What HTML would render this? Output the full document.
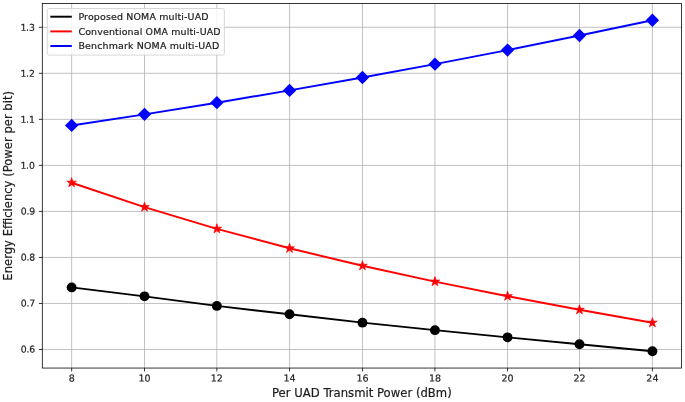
<!DOCTYPE html>
<html><head><meta charset="utf-8"><title>Energy Efficiency vs Per UAD Transmit Power</title>
<style>
html,body{margin:0;padding:0;background:#fff;}
body{width:685px;height:402px;overflow:hidden;}
svg{display:block;}
text{font-family:"DejaVu Sans","Liberation Sans",sans-serif;fill:#1c1c1c;stroke:#1c1c1c;stroke-width:0.2px;stroke-linejoin:round;}
.tick{font-size:9.5px;}
.lab{font-size:11.6px;}
.leg{font-size:9.45px;}
</style></head><body>
<svg width="685" height="402" viewBox="0 0 685 402">
<rect x="0" y="0" width="685" height="402" fill="#ffffff"/>

<g stroke="#b0b0b0" stroke-width="0.78" fill="none">
<line x1="71.65" y1="3.4" x2="71.65" y2="368.05"/>
<line x1="144.50" y1="3.4" x2="144.50" y2="368.05"/>
<line x1="216.85" y1="3.4" x2="216.85" y2="368.05"/>
<line x1="289.55" y1="3.4" x2="289.55" y2="368.05"/>
<line x1="362.45" y1="3.4" x2="362.45" y2="368.05"/>
<line x1="434.95" y1="3.4" x2="434.95" y2="368.05"/>
<line x1="507.55" y1="3.4" x2="507.55" y2="368.05"/>
<line x1="579.50" y1="3.4" x2="579.50" y2="368.05"/>
<line x1="652.40" y1="3.4" x2="652.40" y2="368.05"/>
<line x1="42.3" y1="349.50" x2="681.6" y2="349.50"/>
<line x1="42.3" y1="303.47" x2="681.6" y2="303.47"/>
<line x1="42.3" y1="257.44" x2="681.6" y2="257.44"/>
<line x1="42.3" y1="211.41" x2="681.6" y2="211.41"/>
<line x1="42.3" y1="165.38" x2="681.6" y2="165.38"/>
<line x1="42.3" y1="119.35" x2="681.6" y2="119.35"/>
<line x1="42.3" y1="73.32" x2="681.6" y2="73.32"/>
<line x1="42.3" y1="27.29" x2="681.6" y2="27.29"/>
</g>
<polyline points="71.65,287.40 144.50,296.35 216.85,305.90 289.55,314.30 362.45,322.65 434.95,330.15 507.55,337.35 579.50,344.30 652.40,351.25" fill="none" stroke="#000000" stroke-width="1.95" stroke-linejoin="round" stroke-linecap="butt"/>
<circle cx="71.65" cy="287.40" r="4.95" fill="#000000"/>
<circle cx="144.50" cy="296.35" r="4.95" fill="#000000"/>
<circle cx="216.85" cy="305.90" r="4.95" fill="#000000"/>
<circle cx="289.55" cy="314.30" r="4.95" fill="#000000"/>
<circle cx="362.45" cy="322.65" r="4.95" fill="#000000"/>
<circle cx="434.95" cy="330.15" r="4.95" fill="#000000"/>
<circle cx="507.55" cy="337.35" r="4.95" fill="#000000"/>
<circle cx="579.50" cy="344.30" r="4.95" fill="#000000"/>
<circle cx="652.40" cy="351.25" r="4.95" fill="#000000"/>
<polyline points="71.65,182.74 144.50,207.10 216.85,228.84 289.55,248.30 362.45,265.79 434.95,281.65 507.55,296.21 579.50,309.81 652.40,322.76" fill="none" stroke="#ff0000" stroke-width="1.95" stroke-linejoin="round" stroke-linecap="butt"/>
<polygon points="71.65,177.69 72.78,181.18 76.45,181.18 73.48,183.33 74.62,186.82 71.65,184.67 68.68,186.82 69.82,183.33 66.85,181.18 70.52,181.18" fill="#ff0000" stroke="#ff0000" stroke-width="0.7" stroke-linejoin="miter"/>
<polygon points="144.50,202.05 145.63,205.54 149.30,205.54 146.33,207.70 147.47,211.19 144.50,209.03 141.53,211.19 142.67,207.70 139.70,205.54 143.37,205.54" fill="#ff0000" stroke="#ff0000" stroke-width="0.7" stroke-linejoin="miter"/>
<polygon points="216.85,223.79 217.98,227.28 221.65,227.28 218.68,229.44 219.82,232.93 216.85,230.77 213.88,232.93 215.02,229.44 212.05,227.28 215.72,227.28" fill="#ff0000" stroke="#ff0000" stroke-width="0.7" stroke-linejoin="miter"/>
<polygon points="289.55,243.25 290.68,246.74 294.35,246.74 291.38,248.89 292.52,252.38 289.55,250.23 286.58,252.38 287.72,248.89 284.75,246.74 288.42,246.74" fill="#ff0000" stroke="#ff0000" stroke-width="0.7" stroke-linejoin="miter"/>
<polygon points="362.45,260.74 363.58,264.23 367.25,264.23 364.28,266.39 365.42,269.87 362.45,267.72 359.48,269.87 360.62,266.39 357.65,264.23 361.32,264.23" fill="#ff0000" stroke="#ff0000" stroke-width="0.7" stroke-linejoin="miter"/>
<polygon points="434.95,276.60 436.08,280.09 439.75,280.09 436.78,282.25 437.92,285.74 434.95,283.58 431.98,285.74 433.12,282.25 430.15,280.09 433.82,280.09" fill="#ff0000" stroke="#ff0000" stroke-width="0.7" stroke-linejoin="miter"/>
<polygon points="507.55,291.16 508.68,294.65 512.35,294.65 509.38,296.81 510.52,300.30 507.55,298.14 504.58,300.30 505.72,296.81 502.75,294.65 506.42,294.65" fill="#ff0000" stroke="#ff0000" stroke-width="0.7" stroke-linejoin="miter"/>
<polygon points="579.50,304.76 580.63,308.25 584.30,308.25 581.33,310.40 582.47,313.89 579.50,311.74 576.53,313.89 577.67,310.40 574.70,308.25 578.37,308.25" fill="#ff0000" stroke="#ff0000" stroke-width="0.7" stroke-linejoin="miter"/>
<polygon points="652.40,317.71 653.53,321.20 657.20,321.20 654.23,323.35 655.37,326.84 652.40,324.69 649.43,326.84 650.57,323.35 647.60,321.20 651.27,321.20" fill="#ff0000" stroke="#ff0000" stroke-width="0.7" stroke-linejoin="miter"/>
<polyline points="71.65,125.42 144.50,114.34 216.85,102.67 289.55,90.41 362.45,77.57 434.95,64.13 507.55,50.11 579.50,35.50 652.40,20.30" fill="none" stroke="#0000ff" stroke-width="1.95" stroke-linejoin="round" stroke-linecap="butt"/>
<polygon points="71.65,118.72 78.35,125.42 71.65,132.12 64.95,125.42" fill="#0000ff"/>
<polygon points="144.50,107.64 151.20,114.34 144.50,121.04 137.80,114.34" fill="#0000ff"/>
<polygon points="216.85,95.97 223.55,102.67 216.85,109.37 210.15,102.67" fill="#0000ff"/>
<polygon points="289.55,83.71 296.25,90.41 289.55,97.11 282.85,90.41" fill="#0000ff"/>
<polygon points="362.45,70.87 369.15,77.57 362.45,84.27 355.75,77.57" fill="#0000ff"/>
<polygon points="434.95,57.43 441.65,64.13 434.95,70.83 428.25,64.13" fill="#0000ff"/>
<polygon points="507.55,43.41 514.25,50.11 507.55,56.81 500.85,50.11" fill="#0000ff"/>
<polygon points="579.50,28.80 586.20,35.50 579.50,42.20 572.80,35.50" fill="#0000ff"/>
<polygon points="652.40,13.60 659.10,20.30 652.40,27.00 645.70,20.30" fill="#0000ff"/>
<rect x="42.3" y="3.4" width="639.30" height="364.65" fill="none" stroke="#000" stroke-width="0.78"/>
<g stroke="#000" stroke-width="0.78">
<line x1="71.65" y1="368.05" x2="71.65" y2="371.45"/>
<line x1="144.50" y1="368.05" x2="144.50" y2="371.45"/>
<line x1="216.85" y1="368.05" x2="216.85" y2="371.45"/>
<line x1="289.55" y1="368.05" x2="289.55" y2="371.45"/>
<line x1="362.45" y1="368.05" x2="362.45" y2="371.45"/>
<line x1="434.95" y1="368.05" x2="434.95" y2="371.45"/>
<line x1="507.55" y1="368.05" x2="507.55" y2="371.45"/>
<line x1="579.50" y1="368.05" x2="579.50" y2="371.45"/>
<line x1="652.40" y1="368.05" x2="652.40" y2="371.45"/>
<line x1="38.9" y1="349.50" x2="42.3" y2="349.50"/>
<line x1="38.9" y1="303.47" x2="42.3" y2="303.47"/>
<line x1="38.9" y1="257.44" x2="42.3" y2="257.44"/>
<line x1="38.9" y1="211.41" x2="42.3" y2="211.41"/>
<line x1="38.9" y1="165.38" x2="42.3" y2="165.38"/>
<line x1="38.9" y1="119.35" x2="42.3" y2="119.35"/>
<line x1="38.9" y1="73.32" x2="42.3" y2="73.32"/>
<line x1="38.9" y1="27.29" x2="42.3" y2="27.29"/>
</g>
<text class="tick" x="71.65" y="381.55" transform="rotate(0.04 71.65 381.55)" text-anchor="middle">8</text>
<text class="tick" x="144.50" y="381.55" transform="rotate(0.04 144.50 381.55)" text-anchor="middle">10</text>
<text class="tick" x="216.85" y="381.55" transform="rotate(0.04 216.85 381.55)" text-anchor="middle">12</text>
<text class="tick" x="289.55" y="381.55" transform="rotate(0.04 289.55 381.55)" text-anchor="middle">14</text>
<text class="tick" x="362.45" y="381.55" transform="rotate(0.04 362.45 381.55)" text-anchor="middle">16</text>
<text class="tick" x="434.95" y="381.55" transform="rotate(0.04 434.95 381.55)" text-anchor="middle">18</text>
<text class="tick" x="507.55" y="381.55" transform="rotate(0.04 507.55 381.55)" text-anchor="middle">20</text>
<text class="tick" x="579.50" y="381.55" transform="rotate(0.04 579.50 381.55)" text-anchor="middle">22</text>
<text class="tick" x="652.40" y="381.55" transform="rotate(0.04 652.40 381.55)" text-anchor="middle">24</text>
<text class="tick" style="font-size:9.3px" x="35.15" y="352.50" transform="rotate(0.04 35.15 352.50)" text-anchor="end" textLength="14.4" lengthAdjust="spacing">0.6</text>
<text class="tick" style="font-size:9.3px" x="35.15" y="306.47" transform="rotate(0.04 35.15 306.47)" text-anchor="end" textLength="14.4" lengthAdjust="spacing">0.7</text>
<text class="tick" style="font-size:9.3px" x="35.15" y="260.44" transform="rotate(0.04 35.15 260.44)" text-anchor="end" textLength="14.4" lengthAdjust="spacing">0.8</text>
<text class="tick" style="font-size:9.3px" x="35.15" y="214.41" transform="rotate(0.04 35.15 214.41)" text-anchor="end" textLength="14.4" lengthAdjust="spacing">0.9</text>
<text class="tick" style="font-size:9.3px" x="34.80" y="168.78" transform="rotate(0.04 34.80 168.78)" text-anchor="end" textLength="14.4" lengthAdjust="spacing">1.0</text>
<text class="tick" style="font-size:9.3px" x="34.80" y="122.75" transform="rotate(0.04 34.80 122.75)" text-anchor="end" textLength="14.4" lengthAdjust="spacing">1.1</text>
<text class="tick" style="font-size:9.3px" x="34.80" y="76.72" transform="rotate(0.04 34.80 76.72)" text-anchor="end" textLength="14.4" lengthAdjust="spacing">1.2</text>
<text class="tick" style="font-size:9.3px" x="34.80" y="30.69" transform="rotate(0.04 34.80 30.69)" text-anchor="end" textLength="14.4" lengthAdjust="spacing">1.3</text>
<text class="lab" style="font-size:11.65px" x="361.85" y="397.45" transform="rotate(0.015 361.95 397.45)" text-anchor="middle">Per UAD Transmit Power (dBm)</text>
<text class="lab" transform="translate(12.4,185.82) rotate(-90)" text-anchor="middle">Energy Efficiency (Power per bit)</text>
<rect x="47.3" y="8.5" width="177.1" height="46.6" rx="1.9" ry="1.9" fill="#ffffff" fill-opacity="0.8" stroke="#cccccc" stroke-opacity="0.8" stroke-width="0.95"/>
<line x1="50.3" y1="16.7" x2="71.8" y2="16.7" stroke="#000000" stroke-width="1.95"/>
<text class="leg" x="78.4" y="19.90" transform="rotate(0.02 78.4 19.90)" textLength="130.2" lengthAdjust="spacing">Proposed NOMA multi-UAD</text>
<line x1="50.3" y1="31.4" x2="71.8" y2="31.4" stroke="#ff0000" stroke-width="1.95"/>
<text class="leg" x="78.4" y="34.60" transform="rotate(0.02 78.4 34.60)" textLength="142.2" lengthAdjust="spacing">Conventional OMA multi-UAD</text>
<line x1="50.3" y1="46.0" x2="71.8" y2="46.0" stroke="#0000ff" stroke-width="1.95"/>
<text class="leg" x="78.4" y="49.20" transform="rotate(0.02 78.4 49.20)" textLength="140.8" lengthAdjust="spacing">Benchmark NOMA multi-UAD</text>
</svg></body></html>
